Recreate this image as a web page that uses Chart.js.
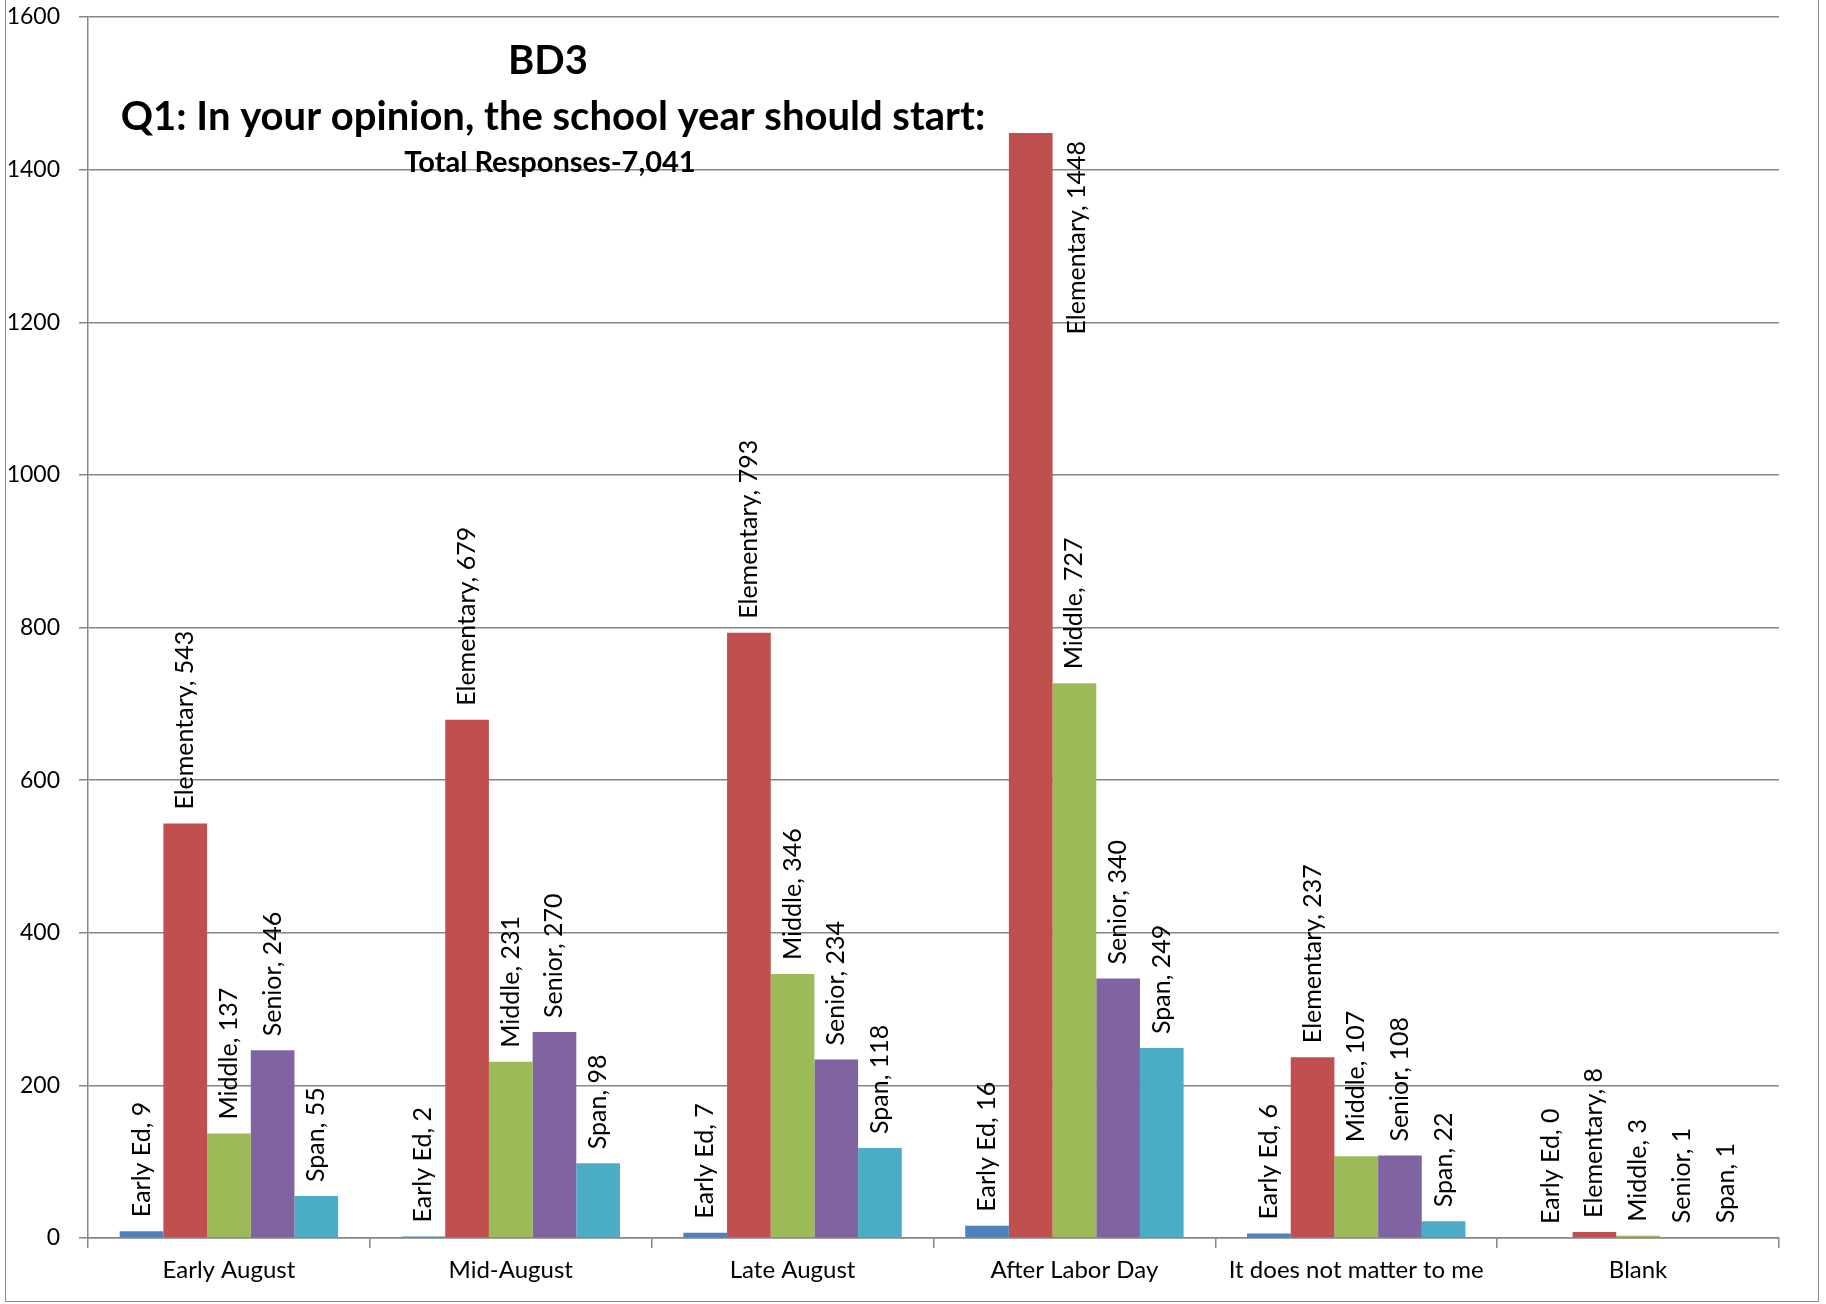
<!DOCTYPE html>
<html>
<head>
<meta charset="utf-8">
<script src="https://cdn.jsdelivr.net/npm/chart.js@4.4.1/dist/chart.umd.min.js"></script>
<style>
  html, body { margin: 0; padding: 0; background: #fff; }
  #wrap { position: relative; width: 1826px; height: 1304px; }
  #frame {
    position: absolute; left: 5px; top: -2px; width: 1814px; height: 1304px;
    border: 1.5px solid #8c8c8c; box-sizing: border-box; pointer-events: none;
  }
</style>
</head>
<body>
<div id="wrap">
  <canvas id="chart"></canvas>
  <div id="frame"></div>
</div>
<script>
const categories = ["Early August", "Mid-August", "Late August", "After Labor Day", "It does not matter to me", "Blank"];
const seriesNames = ["Early Ed", "Elementary", "Middle", "Senior", "Span"];
const earlyEd = [9, 2, 7, 16, 6, 0];
const elementary = [543, 679, 793, 1448, 237, 8];
const middle = [137, 231, 346, 727, 107, 3];
const senior = [246, 270, 234, 340, 108, 1];
const span = [55, 98, 118, 249, 22, 1];
const yTicks = [0, 200, 400, 600, 800, 1000, 1200, 1400, 1600];
const titleLines = ["BD3", "Q1: In your opinion, the school year should start:", "Total Responses-7,041"];

const colors = ["#4F81BD", "#C0504D", "#9BBB59", "#8064A2", "#4BACC6"];
const values = [earlyEd, elementary, middle, senior, span];
const FONT = "Lato, Carlito, Calibri, sans-serif";

// rotated "Series, value" labels above each bar
const barLabels = {
  id: "barLabels",
  afterDatasetsDraw(chart) {
    const c = chart.ctx;
    const top = chart.chartArea.top;
    c.save();
    c.fillStyle = "#000";
    c.font = "25px " + FONT;
    c.textBaseline = "middle";
    chart.data.datasets.forEach((ds, i) => {
      chart.getDatasetMeta(i).data.forEach((bar, j) => {
        const text = ds.label + ", " + ds.data[j];
        const w = c.measureText(text).width;
        c.save();
        if (bar.y - 14 - w < top) {
          // no room above: put it beside the bar, hanging from the top
          c.translate(bar.x + bar.width + 3, bar.y + 8);
          c.textAlign = "right";
        } else {
          c.translate(bar.x, bar.y - 14);
          c.textAlign = "left";
        }
        c.rotate(-Math.PI / 2);
        c.fillText(text, 0, 0);
        c.restore();
      });
    });
    c.restore();
  }
};

// title sits inside the plot area like the original
const titleBlock = {
  id: "titleBlock",
  afterDraw(chart) {
    const c = chart.ctx;
    c.save();
    c.fillStyle = "#000";
    c.textAlign = "center";
    c.textBaseline = "middle";
    c.font = "bold 40px " + FONT;
    c.fillText(titleLines[0], 548, 61);
    c.fillText(titleLines[1], 553, 117);
    c.font = "bold 29px " + FONT;
    c.fillText(titleLines[2], 550, 163);
    c.restore();
  }
};

new Chart(document.getElementById("chart"), {
  type: "bar",
  data: {
    labels: categories,
    datasets: seriesNames.map((name, i) => ({
      label: name,
      data: values[i],
      backgroundColor: colors[i],
      borderWidth: 0,
      categoryPercentage: 0.775,
      barPercentage: 1.0
    }))
  },
  options: {
    responsive: true,
    maintainAspectRatio: false,
    animation: false,
    layout: { padding: { top: 17, right: 47, left: 0, bottom: 0 } },
    plugins: {
      legend: { display: false },
      tooltip: { enabled: false }
    },
    scales: {
      x: {
        grid: {
          display: true,
          offset: true,
          drawOnChartArea: false,
          drawTicks: true,
          tickLength: 10,
          color: "#868686",
          lineWidth: 1.5
        },
        border: { display: true, color: "#868686", width: 1.5 },
        ticks: {
          color: "#000",
          font: { family: FONT, size: 24 },
          padding: 8,
          maxRotation: 0,
          autoSkip: false
        },
        afterFit(scale) { scale.height = 66; }
      },
      y: {
        min: 0,
        max: 1600,
        afterBuildTicks(scale) { scale.ticks = yTicks.map(v => ({ value: v })); },
        grid: {
          color: "#868686",
          lineWidth: 1.5,
          tickLength: 9
        },
        border: { display: true, color: "#868686", width: 1.5 },
        ticks: {
          color: "#000",
          font: { family: FONT, size: 23 },
          padding: 19,
          callback: v => String(v)
        },
        afterFit(scale) {
          scale.width = 88;
          scale.paddingTop = 0;
          scale.paddingBottom = 0;
        }
      }
    }
  },
  plugins: [barLabels, titleBlock]
});
</script>
</body>
</html>
